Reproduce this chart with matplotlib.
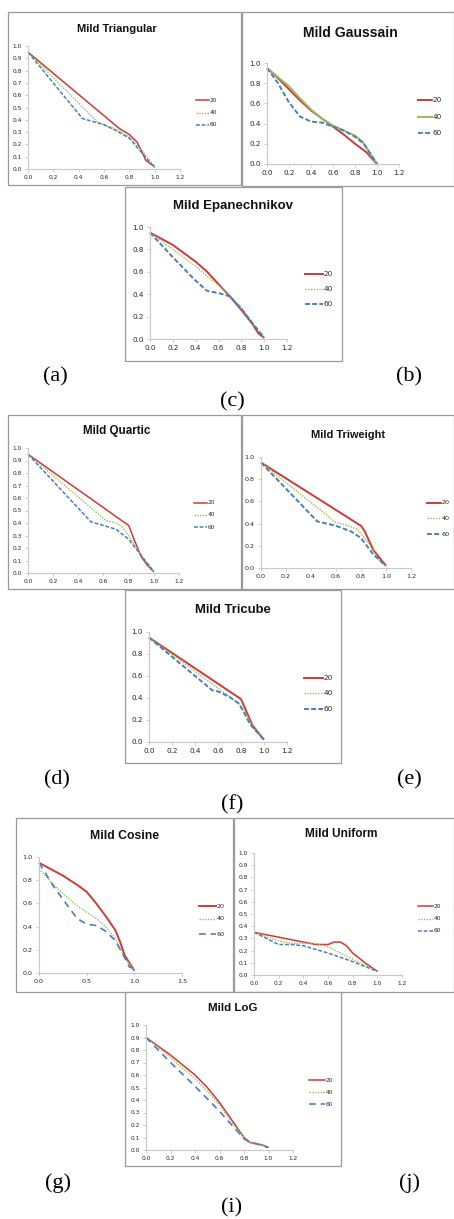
import matplotlib
matplotlib.use('Agg')
import matplotlib.pyplot as plt
from matplotlib.lines import Line2D
from matplotlib.patches import Rectangle
from matplotlib.ticker import FormatStrFormatter

# ---------------- data ----------------
series_names = ['20', '40', '60']

tri_20_x = [0.0, 0.72, 0.8, 0.86, 0.9, 0.93, 0.97, 1.0]
tri_20_y = [0.95, 0.33, 0.28, 0.22, 0.14, 0.07, 0.04, 0.02]
tri_40_x = [0.0, 0.55, 0.7, 0.8, 0.9, 1.0]
tri_40_y = [0.95, 0.38, 0.32, 0.26, 0.15, 0.02]
tri_60_x = [0.0, 0.43, 0.6, 0.7, 0.8, 0.9, 1.0]
tri_60_y = [0.95, 0.41, 0.36, 0.31, 0.25, 0.13, 0.01]

gau_20_x = [0.0, 0.1, 0.2, 0.3, 0.4, 0.5, 0.6, 0.7, 0.8, 0.9, 1.0]
gau_20_y = [0.95, 0.85, 0.74, 0.63, 0.53, 0.45, 0.37, 0.29, 0.2, 0.12, 0.0]
gau_40_x = [0.0, 0.2, 0.3, 0.4, 0.5, 0.6, 0.7, 0.8, 0.87, 1.0]
gau_40_y = [0.95, 0.77, 0.65, 0.54, 0.45, 0.38, 0.33, 0.28, 0.22, 0.0]
gau_60_x = [0.0, 0.1, 0.2, 0.3, 0.4, 0.5, 0.6, 0.7, 0.8, 0.88, 1.0]
gau_60_y = [0.95, 0.8, 0.61, 0.47, 0.42, 0.41, 0.37, 0.33, 0.27, 0.2, 0.0]

epa_20_x = [0.0, 0.2, 0.4, 0.5, 0.6, 0.7, 0.8, 0.9, 0.95, 1.0]
epa_20_y = [0.95, 0.84, 0.69, 0.6, 0.49, 0.38, 0.26, 0.13, 0.05, 0.01]
epa_40_x = [0.0, 0.2, 0.4, 0.5, 0.6, 0.7, 0.8, 0.9, 1.0]
epa_40_y = [0.95, 0.8, 0.65, 0.56, 0.48, 0.39, 0.28, 0.14, 0.01]
epa_60_x = [0.0, 0.2, 0.4, 0.5, 0.6, 0.7, 0.8, 0.9, 1.0]
epa_60_y = [0.95, 0.73, 0.52, 0.43, 0.41, 0.38, 0.27, 0.14, 0.01]

qua_20_x = [0.0, 0.8, 0.85, 0.9, 0.95, 1.0]
qua_20_y = [0.95, 0.38, 0.25, 0.13, 0.06, 0.01]
qua_40_x = [0.0, 0.62, 0.7, 0.75, 0.8, 0.9, 1.0]
qua_40_y = [0.95, 0.42, 0.4, 0.37, 0.3, 0.14, 0.01]
qua_60_x = [0.0, 0.5, 0.6, 0.7, 0.8, 0.9, 1.0]
qua_60_y = [0.95, 0.41, 0.38, 0.35, 0.27, 0.14, 0.01]

trw_20_x = [0.0, 0.8, 0.83, 0.9, 1.0]
trw_20_y = [0.95, 0.38, 0.33, 0.16, 0.02]
trw_40_x = [0.0, 0.6, 0.7, 0.77, 0.85, 0.95, 1.0]
trw_40_y = [0.95, 0.41, 0.38, 0.35, 0.24, 0.06, 0.02]
trw_60_x = [0.0, 0.45, 0.6, 0.72, 0.8, 0.9, 1.0]
trw_60_y = [0.95, 0.42, 0.38, 0.33, 0.27, 0.12, 0.02]

trc_20_x = [0.0, 0.8, 0.85, 0.9, 1.0]
trc_20_y = [0.95, 0.39, 0.27, 0.15, 0.02]
trc_40_x = [0.0, 0.6, 0.77, 0.82, 0.9, 1.0]
trc_40_y = [0.95, 0.49, 0.36, 0.3, 0.14, 0.02]
trc_60_x = [0.0, 0.55, 0.6, 0.7, 0.78, 0.82, 0.88, 1.0]
trc_60_y = [0.95, 0.47, 0.46, 0.41, 0.35, 0.28, 0.16, 0.02]

cos_20_x = [0.0, 0.25, 0.4, 0.5, 0.6, 0.7, 0.8, 0.85, 0.9, 1.0]
cos_20_y = [0.95, 0.84, 0.76, 0.7, 0.6, 0.49, 0.37, 0.27, 0.15, 0.02]
cos_40_x = [0.0, 0.2, 0.4, 0.6, 0.7, 0.8, 0.9, 1.0]
cos_40_y = [0.9, 0.72, 0.58, 0.47, 0.4, 0.3, 0.13, 0.02]
cos_60_x = [0.0, 0.15, 0.3, 0.4, 0.5, 0.6, 0.7, 0.8, 0.9, 0.95, 1.0]
cos_60_y = [0.95, 0.75, 0.58, 0.47, 0.42, 0.41, 0.36, 0.28, 0.13, 0.05, 0.04]

uni_20_x = [0.0, 0.2, 0.4, 0.5, 0.6, 0.65, 0.7, 0.75, 0.8, 0.9, 1.0]
uni_20_y = [0.35, 0.31, 0.27, 0.25, 0.25, 0.27, 0.27, 0.24, 0.18, 0.1, 0.03]
uni_40_x = [0.0, 0.2, 0.3, 0.4, 0.5, 0.6, 0.8, 1.0]
uni_40_y = [0.35, 0.28, 0.26, 0.26, 0.26, 0.23, 0.13, 0.03]
uni_60_x = [0.0, 0.2, 0.3, 0.4, 0.6, 0.8, 1.0]
uni_60_y = [0.35, 0.25, 0.25, 0.24, 0.18, 0.11, 0.03]

log_20_x = [0.0, 0.1, 0.2, 0.3, 0.4, 0.5, 0.6, 0.7, 0.8, 0.85, 0.9, 0.95, 1.0]
log_20_y = [0.9, 0.83, 0.76, 0.68, 0.6, 0.5, 0.38, 0.24, 0.1, 0.06, 0.05, 0.04, 0.02]
log_40_x = [0.0, 0.2, 0.4, 0.5, 0.6, 0.7, 0.8, 0.85, 0.9, 1.0]
log_40_y = [0.9, 0.74, 0.57, 0.47, 0.36, 0.22, 0.1, 0.06, 0.05, 0.02]
log_60_x = [0.0, 0.2, 0.4, 0.6, 0.7, 0.8, 0.85, 0.9, 1.0]
log_60_y = [0.9, 0.7, 0.51, 0.31, 0.2, 0.09, 0.06, 0.05, 0.02]

x_ticks_std = [0.0, 0.2, 0.4, 0.6, 0.8, 1.0, 1.2]
x_ticks_cos = [0.0, 0.5, 1.0, 1.5]
y_ticks_01 = [0.0, 0.1, 0.2, 0.3, 0.4, 0.5, 0.6, 0.7, 0.8, 0.9, 1.0]
y_ticks_02 = [0.0, 0.2, 0.4, 0.6, 0.8, 1.0]

panel_labels = ['(a)', '(b)', '(c)', '(d)', '(e)', '(f)', '(g)', '(j)', '(i)']

# ---------------- layout ----------------
W, H = 454, 1219
fig = plt.figure(figsize=(W / 100, H / 100), dpi=100)
fig.patch.set_facecolor('white')
renderer = fig.canvas.get_renderer()


def fx(x):
    return x / W


def fy(y):
    return 1 - y / H


RED = '#CC3B36'
GREEN = '#9BBB59'
BLUE = '#4A7EBB'

panels = [
    dict(title='Mild Triangular', data=[(tri_20_x, tri_20_y), (tri_40_x, tri_40_y), (tri_60_x, tri_60_y)],
         box=(8, 12, 241, 185), plot=(28, 46, 180, 169), xmax=1.2, xt=x_ticks_std, yt=y_ticks_01,
         title_c=(117, 29), title_w=79, leg=(196, 209, [100, 113, 125]), fs=4.2, big=False, green='dot', blue='short'),
    dict(title='Mild Gaussain', data=[(gau_20_x, gau_20_y), (gau_40_x, gau_40_y), (gau_60_x, gau_60_y)],
         box=(242, 12, 454, 186), plot=(267, 63, 399, 164), xmax=1.2, xt=x_ticks_std, yt=y_ticks_02,
         title_c=(350, 33), title_w=95, leg=(418, 432, [100, 117, 133]), fs=5.2, big=True, green='solid', blue='short'),
    dict(title='Mild Epanechnikov', data=[(epa_20_x, epa_20_y), (epa_40_x, epa_40_y), (epa_60_x, epa_60_y)],
         box=(125, 187, 342, 361), plot=(150, 227, 287, 339), xmax=1.2, xt=x_ticks_std, yt=y_ticks_02,
         title_c=(233, 206), title_w=120, leg=(305, 323, [274, 289, 304]), fs=5.2, big=True, green='dot', blue='short'),
    dict(title='Mild Quartic', data=[(qua_20_x, qua_20_y), (qua_40_x, qua_40_y), (qua_60_x, qua_60_y)],
         box=(8, 415, 241, 589), plot=(28, 448, 179, 573), xmax=1.2, xt=x_ticks_std, yt=y_ticks_01,
         title_c=(117, 431), title_w=67, leg=(194, 207, [503, 515, 527]), fs=4.2, big=False, green='dot', blue='short'),
    dict(title='Mild Triweight', data=[(trw_20_x, trw_20_y), (trw_40_x, trw_40_y), (trw_60_x, trw_60_y)],
         box=(242, 415, 454, 589), plot=(261, 457, 411, 568), xmax=1.2, xt=x_ticks_std, yt=y_ticks_02,
         title_c=(348, 435), title_w=74, leg=(427, 441, [503, 518, 534]), fs=4.6, big=True, green='dot', blue='short'),
    dict(title='Mild Tricube', data=[(trc_20_x, trc_20_y), (trc_40_x, trc_40_y), (trc_60_x, trc_60_y)],
         box=(125, 590, 341, 763), plot=(149, 632, 287, 742), xmax=1.2, xt=x_ticks_std, yt=y_ticks_02,
         title_c=(233, 610), title_w=77, leg=(304, 323, [678, 693, 709]), fs=5.2, big=True, green='dot', blue='short'),
    dict(title='Mild Cosine', data=[(cos_20_x, cos_20_y), (cos_40_x, cos_40_y), (cos_60_x, cos_60_y)],
         box=(16, 818, 233, 992), plot=(39, 857, 182, 973), xmax=1.5, xt=x_ticks_cos, yt=y_ticks_02,
         title_c=(124, 836), title_w=69, leg=(199, 216, [906, 919, 934]), fs=4.6, big=True, green='dot', blue='long'),
    dict(title='Mild Uniform', data=[(uni_20_x, uni_20_y), (uni_40_x, uni_40_y), (uni_60_x, uni_60_y)],
         box=(234, 818, 454, 992), plot=(254, 853, 402, 975), xmax=1.2, xt=x_ticks_std, yt=y_ticks_01,
         title_c=(341, 834), title_w=73, leg=(418, 433, [906, 919, 931]), fs=4.2, big=False, green='dot', blue='short'),
    dict(title='Mild LoG', data=[(log_20_x, log_20_y), (log_40_x, log_40_y), (log_60_x, log_60_y)],
         box=(125, 992, 341, 1166), plot=(146, 1025, 293, 1150), xmax=1.2, xt=x_ticks_std, yt=y_ticks_01,
         title_c=(233, 1008), title_w=49, leg=(309, 325, [1080, 1092, 1104]), fs=4.2, big=False, green='dot', blue='long'),
]

label_pos = [(55, 377), (409, 377), (232, 402), (57, 780), (409, 780), (232, 805),
             (58, 1183), (409, 1183), (232, 1208)]

TITLE_FONT = 'Liberation Sans'
AX_COLOR = '#C8C8C8'


def styles(p):
    red_lw = 1.4 if p['big'] else 1.1
    if p['green'] == 'solid':
        g = dict(color=GREEN, lw=red_lw, ls='-')
    else:
        g = dict(color=GREEN, lw=1.0, ls=(0, (1, 1)))
    if p['blue'] == 'long':
        b = dict(color=BLUE, lw=1.2, ls=(0, (4, 3)))
    else:
        b = dict(color=BLUE, lw=1.4 if p['big'] else 1.1, ls=(0, (2.5, 1.2)))
    r = dict(color=RED, lw=red_lw, ls='-')
    return [r, g, b]


for i, p in enumerate(panels):
    bx0, by0, bx1, by1 = p['box']
    fig.add_artist(Rectangle((fx(bx0), fy(by1)), (bx1 - bx0) / W, (by1 - by0) / H,
                             transform=fig.transFigure, facecolor='white', edgecolor='#9A9A9A',
                             lw=0.9, zorder=i * 3))
    x0, yt_, x1, yb = p['plot']
    ax = fig.add_axes([fx(x0), fy(yb), (x1 - x0) / W, (yb - yt_) / H], zorder=i * 3 + 1)
    ax.patch.set_alpha(0)
    st = styles(p)
    for (xs, ys), s in zip(p['data'], st):
        ax.plot(xs, ys, color=s['color'], lw=s['lw'], ls=s['ls'], clip_on=False,
                solid_joinstyle='round', solid_capstyle='butt')
    ax.set_xlim(0, p['xmax'])
    ax.set_ylim(0, 1.0)
    ax.set_xticks(p['xt'])
    ax.set_yticks(p['yt'])
    ax.xaxis.set_major_formatter(FormatStrFormatter('%.1f'))
    ax.yaxis.set_major_formatter(FormatStrFormatter('%.1f'))
    for side in ['top', 'right']:
        ax.spines[side].set_visible(False)
    for side in ['left', 'bottom']:
        ax.spines[side].set_color(AX_COLOR)
        ax.spines[side].set_linewidth(0.8)
    ax.tick_params(axis='both', direction='out', length=2, width=0.6, color=AX_COLOR,
                   labelsize=p['fs'], labelcolor='#262626', pad=2.5)

    # title fitted to width
    t = fig.text(fx(p['title_c'][0]), fy(p['title_c'][1]), p['title'], ha='center', va='center',
                 fontsize=10, fontweight='bold', family=TITLE_FONT, color='#111111', zorder=i * 3 + 2)
    w = t.get_window_extent(renderer=renderer).width
    t.set_fontsize(10 * p['title_w'] / w)

    # legend
    lx0, lx1, rows = p['leg']
    for name, s, ry in zip(series_names, st, rows):
        fig.add_artist(Line2D([fx(lx0), fx(lx1)], [fy(ry), fy(ry)], transform=fig.transFigure,
                              color=s['color'], lw=s['lw'], ls=s['ls'], zorder=i * 3 + 2))
        fig.text(fx(lx1 + 0.5), fy(ry), name, ha='left', va='center', fontsize=p['fs'],
                 color='#262626', zorder=i * 3 + 2)

for lab, (lx, ly) in zip(panel_labels, label_pos):
    fig.text(fx(lx), fy(ly), lab, ha='center', va='center', fontsize=16,
             family='Liberation Serif', color='black')

fig.savefig('out.png', dpi=100, facecolor='white')
